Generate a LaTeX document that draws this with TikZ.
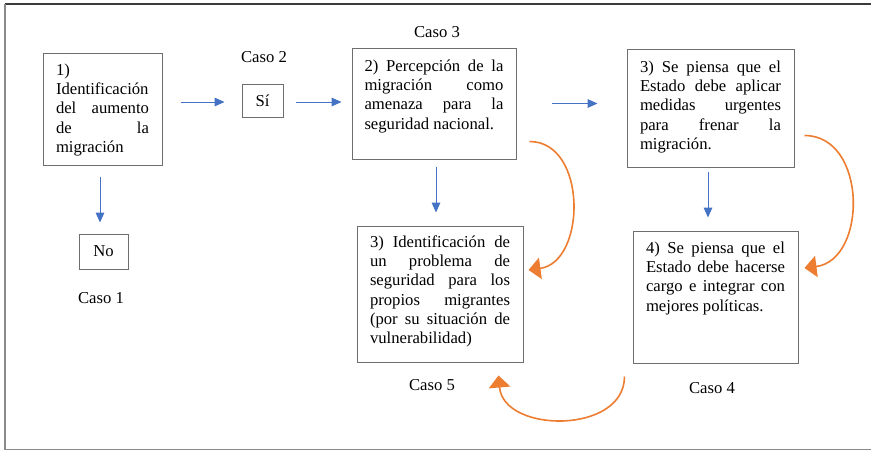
\documentclass[tikz,border=0pt]{standalone}
\usepackage{fontspec}
\setmainfont{Liberation Serif}
\usetikzlibrary{arrows.meta,calc}
\newlength\px
\setlength\px{0.75pt}
\newcommand\spread[1]{\makebox[\linewidth][s]{#1}}
\definecolor{arrblue}{HTML}{4472C4}
\definecolor{arrorange}{HTML}{ED7D31}
\definecolor{boxgray}{HTML}{6E6E6E}
\definecolor{framedark}{HTML}{3A3A3A}
\definecolor{framegray}{HTML}{8A8A8A}
\begin{document}
\begin{tikzpicture}[x=0.75pt,y=-0.75pt,
  txt/.style={font=\fontsize{12.5pt}{14.5pt}\selectfont},
  box/.style={txt,draw=boxgray,line width=0.75pt,inner sep=0pt},
  lbl/.style={txt,inner sep=0pt},
  barrow/.style={draw=arrblue,line width=0.75pt,-{Triangle[length=7.5pt,width=6.5pt]}},
  oarrow/.style={draw=arrorange,line width=1.2pt,-{Triangle[length=9pt,width=16pt]}}]
\useasboundingbox (0,0) rectangle (871,451);
% frame
\draw[framedark,line width=1.2pt] (5,4) -- (871,4);
\draw[framegray,line width=0.8pt] (5,4) -- (5,450);
\draw[framegray,line width=1.2pt] (5,449.5) -- (871,449.5);
% boxes
\node[box,minimum width=119\px,minimum height=112\px] (b1) at (102.5,109)
  {\parbox[c][112\px][t]{93\px}{\rule{0pt}{22\px}1)\\Identificación\\\spread{del aumento}\\\spread{de la}\\migración}};
\node[box,minimum width=41\px,minimum height=33\px] (si) at (262.5,100.5) {Sí};
\node[box,minimum width=49\px,minimum height=35\px] (no) at (103.5,251.5) {No};
\node[box,minimum width=164\px,minimum height=111\px] (b2) at (434,103.5)
  {\parbox[c][111\px][t]{139\px}{\rule{0pt}{23\px}\spread{2) Percepción de la}\\\spread{migración como}\\\spread{amenaza para la}\\seguridad nacional.}};
\node[box,minimum width=166\px,minimum height=136\px] (b5) at (440,294)
  {\parbox[c][136\px][t]{140\px}{\rule{0pt}{21\px}\spread{3) Identificación de}\\\spread{un problema de}\\\spread{seguridad para los}\\\spread{propios migrantes}\\\spread{(por su situación de}\\vulnerabilidad)}};
\node[box,minimum width=167\px,minimum height=118\px] (b3) at (710.5,108)
  {\parbox[c][118\px][t]{141\px}{\rule{0pt}{23\px}\spread{3) Se piensa que el}\\\spread{Estado debe aplicar}\\\spread{medidas urgentes}\\\spread{para frenar la}\\migración.}};
\node[box,minimum width=165\px,minimum height=132\px] (b4) at (715.5,297)
  {\parbox[c][132\px][t]{139\px}{\rule{0pt}{22\px}\spread{4) Se piensa que el}\\\spread{Estado debe hacerse}\\\spread{cargo e integrar con}\\mejores políticas.}};
% labels
\node[lbl] (c1) at (101,298) {Caso 1};
\node[lbl] (c2) at (264,57) {Caso 2};
\node[lbl] (c3) at (437,32) {Caso 3};
\node[lbl] (c5) at (432,385) {Caso 5};
\node[lbl] (c4) at (712,388) {Caso 4};
% blue arrows
\draw[barrow,shorten <=11\px,shorten >=11\px] ($(b1.south)+(-2.5,0)$) -- ($(b1.south |- no.north)+(-2.5,0)$);
\draw[barrow,shorten <=18\px,shorten >=17\px] ($(b1.east |- si.west)+(0,1.5)$) -- ($(si.west)+(0,1.5)$);
\draw[barrow,shorten <=12\px,shorten >=10\px] ($(si.east)+(0,1.5)$) -- ($(si.east -| b2.west)+(0,1.5)$);
\draw[barrow,shorten <=35\px,shorten >=29\px] (b2.east) -- (b2.east -| b3.west);
\draw[barrow,shorten <=7\px,shorten >=13\px] ($(b2.south)+(2,0)$) -- ($(b2.south |- b5.north)+(2,0)$);
\draw[barrow,shorten <=4\px,shorten >=13\px] ($(b3.south)+(-2.5,0)$) -- ($(b3.south |- b4.north)+(-2.5,0)$);
% orange curved arrows
\coordinate (o1s) at ($(b2.south east)+(13,-18)$);
\coordinate (o1e) at ($(b5.east)+(5,-24)$);
\coordinate (o2s) at ($(b3.south east)+(10,-32)$);
\coordinate (o2e) at ($(b4.east)+(6,-29)$);
\coordinate (o3s) at ($(b4.south west)+(-8,13)$);
\coordinate (o3e) at ($(b5.south east)+(-25,13)$);
\draw[oarrow] (o1s) .. controls +(58,0) and +(58,-8) .. (o1e);
\draw[oarrow] (o2s) .. controls +(63,0) and +(63,-8) .. (o2e);
\draw[oarrow] (o3s) .. controls +(0,58) and +(5,58) .. (o3e);
\end{tikzpicture}
\end{document}
